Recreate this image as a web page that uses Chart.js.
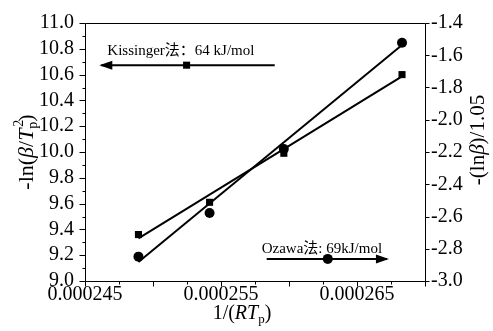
<!DOCTYPE html>
<html><head><meta charset="utf-8">
<script src="https://cdn.jsdelivr.net/npm/chart.js@4/dist/chart.umd.min.js"></script>
<style>html,body{margin:0;padding:0;background:#fff}</style>
</head><body>
<canvas id="c" width="493" height="331"></canvas>
<script>
// ---- data ----
const xValues = [0.00024893, 0.00025416, 0.00025962, 0.00026831];
const kissingerY = [9.36, 9.61, 9.99, 10.60];
const ozawaY = [-2.849, -2.578, -2.181, -1.523];
const fitX = [0.00024893, 0.00026831];
const kissingerFitY = [9.33, 10.587];
const ozawaFitY = [-2.882, -1.537];
const xLabelTicks = [0.000245, 0.000255, 0.000265];
const kissingerLabel = 'Kissinger法：64 kJ/mol';
const ozawaLabel = 'Ozawa法: 69kJ/mol';
const kissingerArrowX = [0.0002462, 0.00025895];
const kissingerArrowY = 10.673;
const kissingerArrowMarkX = 0.00025247;
const ozawaArrowX = [0.00025836, 0.0002672];
const ozawaArrowY = -2.863;
const ozawaArrowMarkX = 0.00026285;

const SERIF = '"Liberation Serif", "Times New Roman", "Noto Sans CJK SC", serif';
const pts = (xs, ys) => xs.map((x, i) => ({x, y: ys[i]}));

const datasets = [
  {data: pts(xValues, kissingerY), yAxisID: 'y', showLine: false, pointStyle: 'rect', pointRadius: 5, backgroundColor: '#000', borderColor: '#000', borderWidth: 0},
  {data: pts(fitX, kissingerFitY), yAxisID: 'y', showLine: true, pointRadius: 0, borderColor: '#000', borderWidth: 2},
  {data: pts(xValues, ozawaY), yAxisID: 'y2', showLine: false, pointStyle: 'circle', pointRadius: 5, backgroundColor: '#000', borderColor: '#000', borderWidth: 0},
  {data: pts(fitX, ozawaFitY), yAxisID: 'y2', showLine: true, pointRadius: 0, borderColor: '#000', borderWidth: 2},
  // legend arrows
  {data: pts(kissingerArrowX, [kissingerArrowY, kissingerArrowY]), yAxisID: 'y', showLine: true, pointRadius: 0, borderColor: '#000', borderWidth: 2},
  {data: [{x: kissingerArrowMarkX, y: kissingerArrowY}], yAxisID: 'y', showLine: false, pointStyle: 'rect', pointRadius: 5, backgroundColor: '#000', borderWidth: 0},
  {data: pts(ozawaArrowX, [ozawaArrowY, ozawaArrowY]), yAxisID: 'y2', showLine: true, pointRadius: 0, borderColor: '#000', borderWidth: 2},
  {data: [{x: ozawaArrowMarkX, y: ozawaArrowY}], yAxisID: 'y2', showLine: false, pointStyle: 'circle', pointRadius: 5, backgroundColor: '#000', borderWidth: 0}
];

function richText(ctx, segs, cx, cy, angle) {
  ctx.save();
  ctx.translate(cx, cy);
  ctx.rotate(angle);
  ctx.textBaseline = 'alphabetic';
  ctx.textAlign = 'left';
  let total = 0;
  segs.forEach(s => {
    ctx.font = (s.italic ? 'italic ' : '') + s.size + 'px ' + SERIF;
    s.w = ctx.measureText(s.t).width;
    if (!s.stack) total += s.w;
  });
  let x = -total / 2, prevX = 0;
  segs.forEach(s => {
    ctx.font = (s.italic ? 'italic ' : '') + s.size + 'px ' + SERIF;
    const px = s.stack ? prevX + (s.shift || 0) : x;
    ctx.fillText(s.t, px, (s.dy || 0) + 7);
    if (!s.stack) { prevX = x; x += s.w; }
  });
  ctx.restore();
}

const decor = {
  id: 'decor',
  afterDraw(chart) {
    const ctx = chart.ctx, a = chart.chartArea;
    const sx = chart.scales.x, sy = chart.scales.y, sy2 = chart.scales.y2;
    ctx.save();
    ctx.strokeStyle = '#000';
    ctx.lineWidth = 1;
    const L = Math.round(a.left) + 0.5, R = Math.round(a.right) + 0.5, T = Math.round(a.top) + 0.5, B = Math.round(a.bottom) + 0.5;
    ctx.beginPath();
    ctx.moveTo(L, T); ctx.lineTo(R, T); ctx.lineTo(R, B); ctx.lineTo(L, B); ctx.closePath();
    ctx.stroke();
    ctx.beginPath();
    for (let i = 0; i <= 20; i++) {
      const y = Math.round(sy.getPixelForValue(9 + i * 0.1)) + 0.5;
      const len = i % 2 === 0 ? 6 : 3;
      ctx.moveTo(L, y); ctx.lineTo(L - len, y);
    }
    for (let i = 0; i <= 8; i++) {
      const y = Math.round(sy2.getPixelForValue(-3 + i * 0.2)) + 0.5;
      ctx.moveTo(R, y); ctx.lineTo(R + 4, y);
    }
    for (let i = 0; i <= 10; i++) {
      const x = Math.round(sx.getPixelForValue(0.000245 + i * 0.0000025)) + 0.5;
      const len = i % 2 === 0 ? 5 : 3;
      ctx.moveTo(x, B); ctx.lineTo(x, B + len);
    }
    ctx.stroke();

    ctx.fillStyle = '#000';
    const ky = sy.getPixelForValue(kissingerArrowY);
    const kx = sx.getPixelForValue(kissingerArrowX[0]);
    ctx.beginPath(); ctx.moveTo(kx - 2, ky); ctx.lineTo(kx + 11, ky - 4.5); ctx.lineTo(kx + 11, ky + 4.5); ctx.closePath(); ctx.fill();
    const oy = sy2.getPixelForValue(ozawaArrowY);
    const ox = sx.getPixelForValue(ozawaArrowX[1]);
    ctx.beginPath(); ctx.moveTo(ox + 2, oy); ctx.lineTo(ox - 11, oy - 4.5); ctx.lineTo(ox - 11, oy + 4.5); ctx.closePath(); ctx.fill();

    ctx.font = '15px ' + SERIF;
    ctx.textBaseline = 'middle';
    ctx.textAlign = 'left';
    ctx.fillText(kissingerLabel, kx + 6, ky - 14);
    ctx.fillText(ozawaLabel, sx.getPixelForValue(ozawaArrowX[0]) - 5, oy - 10);

    richText(ctx, [
      {t: '-ln(', size: 22}, {t: 'β', size: 22, italic: true}, {t: '/', size: 22},
      {t: 'T', size: 22, italic: true}, {t: 'p', size: 14, dy: 4}, {t: '2', size: 14, dy: -10, stack: true, shift: 2},
      {t: ')', size: 22}
    ], 26, 152, -Math.PI / 2);
    richText(ctx, [
      {t: '-(ln', size: 21}, {t: 'β', size: 21, italic: true}, {t: ')/1.05', size: 21}
    ], 477, 140, -Math.PI / 2);
    richText(ctx, [
      {t: '1/(', size: 20}, {t: 'RT', size: 20, italic: true}, {t: 'p', size: 13, dy: 4}, {t: ')', size: 20}
    ], 242, 312, 0);
    ctx.restore();
  }
};

new Chart(document.getElementById('c'), {
  type: 'scatter',
  data: {datasets},
  options: {
    responsive: false, animation: false, devicePixelRatio: 1,
    layout: {padding: {top: 16, left: 0, right: 0, bottom: 0}},
    plugins: {legend: {display: false}, tooltip: {enabled: false}},
    scales: {
      x: {
        type: 'linear', min: 0.000245, max: 0.00027,
        afterBuildTicks: s => { s.ticks = xLabelTicks.map(v => ({value: v})); },
        afterFit: s => { s.height = 50; },
        ticks: {callback: v => Number(v).toFixed(6), color: '#000', font: {family: SERIF, size: 20}, padding: 2, maxRotation: 0, autoSkip: false},
        grid: {display: false, drawTicks: false}, border: {display: false}
      },
      y: {
        position: 'left', min: 9, max: 11,
        afterFit: s => { s.width = 85; },
        ticks: {stepSize: 0.2, autoSkip: false, callback: v => Number(v).toFixed(1), color: '#000', font: {family: SERIF, size: 20}, padding: 11},
        grid: {display: false, drawTicks: false}, border: {display: false}
      },
      y2: {
        position: 'right', min: -3, max: -1.4,
        afterFit: s => { s.width = 68; },
        ticks: {stepSize: 0.2, autoSkip: false, callback: v => Number(v).toFixed(1), color: '#000', font: {family: SERIF, size: 20}, padding: 6},
        grid: {display: false, drawTicks: false}, border: {display: false}
      }
    }
  },
  plugins: [decor]
});
</script>
</body></html>
